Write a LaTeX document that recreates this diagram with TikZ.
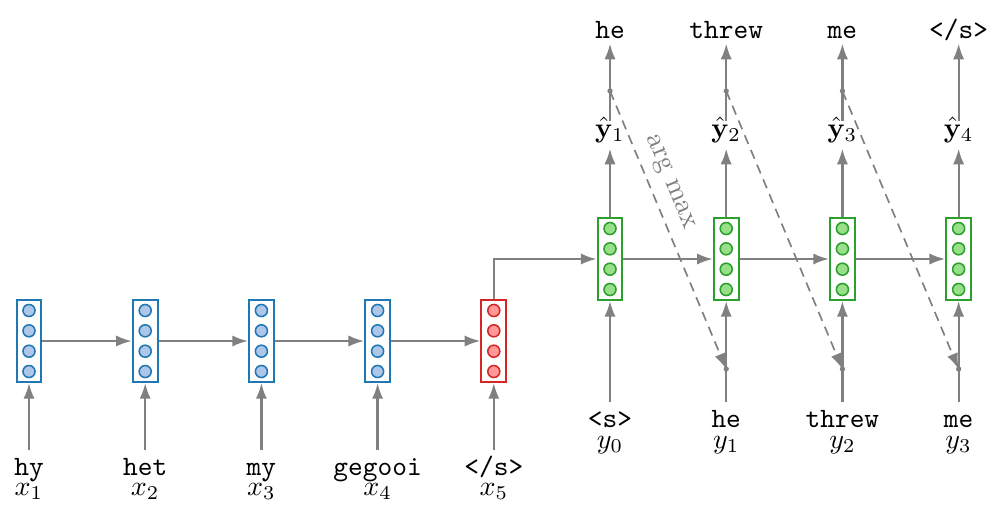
\documentclass[tikz,border=0pt]{standalone}
\usetikzlibrary{arrows.meta}
\definecolor{ag}{RGB}{128,128,128}
\definecolor{cB}{RGB}{31,119,180}
\definecolor{cBf}{RGB}{174,199,232}
\definecolor{cR}{RGB}{214,39,40}
\definecolor{cRf}{RGB}{255,152,150}
\definecolor{cG}{RGB}{44,160,44}
\definecolor{cGf}{RGB}{152,223,138}
\tikzset{
  arr/.style={draw=ag, line width=0.8pt, -{Latex[length=5.6pt,width=4pt]}},
  dasharr/.style={draw=ag, line width=0.6pt, dash pattern=on 3.4pt off 2.3pt, -{Latex[length=5.6pt,width=4pt]}},
  cell/.style={draw=c#1, line width=0.7pt, minimum width=8.9pt, minimum height=29.3pt, inner sep=0pt},
  unit/.style={draw=c#1, fill=c#1f, line width=0.55pt},
  inword/.style={font=\ttfamily, anchor=base, text height=6.1pt, text depth=1.5pt, inner sep=2.5pt},
  outword/.style={font=\ttfamily, anchor=base, text height=6.1pt, text depth=0pt, inner sep=1.8pt},
  var/.style={anchor=base, inner sep=1pt},
  yhat/.style={anchor=base, inner sep=0pt},
  argmax/.style={text=ag, sloped, above, pos=0.356},
  gdot/.style={fill=ag}
}
\begin{document}
\begin{tikzpicture}[x=0.357pt,y=-0.357pt]
\useasboundingbox (0,0) rectangle (997,521);
% encoder cells
\foreach \n/\x/\c in {e1/29/B, e2/145.2/B, e3/261.4/B, e4/377.6/B, e5/493.8/R} {
  \node[cell=\c] (\n) at (\x,341) {};
  \foreach \dy in {-30.5,-10.2,10.2,30.5}
    \draw[unit=\c] ({\x},{341+(\dy)}) circle[radius=2.15pt];
}
% decoder cells
\foreach \n/\x in {d1/610, d2/726.2, d3/842.4, d4/958.6} {
  \node[cell=G] (\n) at (\x,259) {};
  \foreach \dy in {-30.5,-10.2,10.2,30.5}
    \draw[unit=G] ({\x},{259+(\dy)}) circle[radius=2.15pt];
}
% encoder inputs
\node[inword] (w1) at (29,475) {hy};
\node[inword] (w2) at (145.2,475) {het};
\node[inword] (w3) at (261.4,475) {my};
\node[inword] (w4) at (377.6,475) {gegooi};
\node[inword] (w5) at (493.8,475) {</s>};
\node[var] (v1) at (29,495) {$x_1$};
\node[var] (v2) at (145.2,495) {$x_2$};
\node[var] (v3) at (261.4,495) {$x_3$};
\node[var] (v4) at (377.6,495) {$x_4$};
\node[var] (v5) at (493.8,495) {$x_5$};
\foreach \i in {1,...,5} \draw[arr] (w\i) -- (e\i);
\draw[arr] (e1) -- (e2);
\draw[arr] (e2) -- (e3);
\draw[arr] (e3) -- (e4);
\draw[arr] (e4) -- (e5);
\draw[arr] (e5.north) |- (d1.west);
% decoder inputs
\node[inword] (u0) at (610,427) {<s>};
\node[inword] (u1) at (726.2,427) {he};
\node[inword] (u2) at (842.4,427) {threw};
\node[inword] (u3) at (958.6,427) {me};
\node[var] (t0) at (610,448) {$y_0$};
\node[var] (t1) at (726.2,448) {$y_1$};
\node[var] (t2) at (842.4,448) {$y_2$};
\node[var] (t3) at (958.6,448) {$y_3$};
\draw[arr] (u0) -- (d1);
\draw[arr] (u1) -- (d2);
\draw[arr] (u2) -- (d3);
\draw[arr] (u3) -- (d4);
\draw[arr] (d1) -- (d2);
\draw[arr] (d2) -- (d3);
\draw[arr] (d3) -- (d4);
\coordinate (c2) at (726.2,369);
\coordinate (c3) at (842.4,369);
\coordinate (c4) at (958.6,369);
% outputs
\node[yhat] (h1) at (610,137) {$\hat{\mathbf{y}}_1$};
\node[yhat] (h2) at (726.2,137) {$\hat{\mathbf{y}}_2$};
\node[yhat] (h3) at (842.4,137) {$\hat{\mathbf{y}}_3$};
\node[yhat] (h4) at (958.6,137) {$\hat{\mathbf{y}}_4$};
\node[outword] (o1) at (610,38) {he};
\node[outword] (o2) at (726.2,38) {threw};
\node[outword] (o3) at (842.4,38) {me};
\node[outword] (o4) at (958.6,38) {</s>};
\foreach \i in {1,...,4} {
  \draw[arr, shorten >=2pt] (d\i) -- (h\i);
  \draw[arr, shorten <=-1.5pt] (h\i) -- (o\i);
}
\coordinate (p1) at (610,91);
\coordinate (p2) at (726.2,91);
\coordinate (p3) at (842.4,91);
\draw[dasharr] (p1) -- node[argmax] {arg max} (c2);
\draw[dasharr] (p2) -- (c3);
\draw[dasharr] (p3) -- (c4);
\foreach \p in {p1,p2,p3,c2,c3,c4} \fill[gdot] (\p) circle[radius=0.95pt];
\end{tikzpicture}
\end{document}
